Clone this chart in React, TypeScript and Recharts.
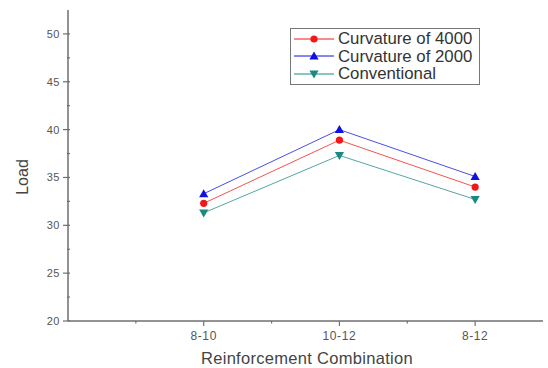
import { LineChart, Line, XAxis, YAxis } from "recharts";

const categories = ["8-10", "10-12", "8-12"];
const curvature4000 = [32.3, 38.9, 34.0];
const curvature2000 = [33.3, 40.0, 35.1];
const conventional = [31.3, 37.3, 32.7];
const yTicks = [20, 22.5, 25, 27.5, 30, 32.5, 35, 37.5, 40, 42.5, 45, 47.5, 50];
const xTicks = [0.5, 1, 1.5, 2, 2.5, 3];

const data = categories.map((c, i) => ({
  pos: i + 1,
  name: c,
  c4000: curvature4000[i],
  c2000: curvature2000[i],
  conv: conventional[i],
}));

const AXIS = "#6f6f6f";
const TEXT = "#555";
const FONT = "'Liberation Sans', Arial, sans-serif";

const RED = "#f01818";
const BLUE = "#1010e0";
const TEAL = "#1a8a80";

const series = [
  { key: "c4000", name: "Curvature of 4000", color: RED, shape: "circle" },
  { key: "c2000", name: "Curvature of 2000", color: BLUE, shape: "up" },
  { key: "conv", name: "Conventional", color: TEAL, shape: "down" },
];

const Marker = ({ cx, cy, shape, color }: any) => {
  if (cx == null || cy == null) return null;
  if (shape === "circle") return <circle cx={cx} cy={cy} r={3.6} fill={color} />;
  const s = 4.6;
  const pts =
    shape === "up"
      ? `${cx},${cy - s} ${cx - s},${cy + s * 0.75} ${cx + s},${cy + s * 0.75}`
      : `${cx},${cy + s} ${cx - s},${cy - s * 0.75} ${cx + s},${cy - s * 0.75}`;
  return <polygon points={pts} fill={color} />;
};

const XTick = ({ x, y, payload }: any) => {
  const major = Number.isInteger(payload.value);
  return (
    <g>
      <line x1={x} x2={x} y1={y} y2={y + (major ? 5 : 2.5)} stroke={AXIS} strokeWidth={1.2} />
      {major && (
        <text x={x} y={y + 19} textAnchor="middle" fill={TEXT} fontSize={12} letterSpacing={0.6} fontFamily={FONT}>
          {categories[payload.value - 1]}
        </text>
      )}
    </g>
  );
};

const YTick = ({ x, y, payload }: any) => {
  const major = payload.value % 5 === 0;
  return (
    <g>
      <line x1={major ? x - 5 : x - 1} x2={x + 2} y1={y} y2={y} stroke={AXIS} strokeWidth={1.2} />
      {major && (
        <text x={x - 8} y={y + 4} textAnchor="end" fill={TEXT} fontSize={11} letterSpacing={0.5} fontFamily={FONT}>
          {payload.value}
        </text>
      )}
    </g>
  );
};

const LegendBox = () => (
  <div
    style={{
      position: "absolute",
      left: 290,
      top: 28,
      border: "1px solid #777",
      padding: "1px 4px 1px 2px",
      background: "#fff",
      fontFamily: FONT,
      fontSize: 16.8,
      color: "#333",
      lineHeight: "17.5px",
      width: 182,
    }}
  >
    {series.map((s) => (
      <div key={s.key} style={{ display: "flex", alignItems: "center", whiteSpace: "nowrap" }}>
        <svg width={42} height={14} style={{ marginRight: 3 }}>
          <line x1={1} x2={41} y1={7} y2={7} stroke={s.color} strokeWidth={1} />
          <Marker cx={21} cy={7} shape={s.shape} color={s.color} />
        </svg>
        {s.name}
      </div>
    ))}
  </div>
);

export default function App() {
  return (
    <div style={{ position: "absolute", left: 0, top: 0, width: 548, height: 368, background: "#fff" }}>
      <LineChart width={548} height={368} data={data} margin={{ top: 10, right: 5, bottom: 0, left: 8 }}>
        <XAxis
          dataKey="pos"
          type="number"
          domain={[0, 3.5]}
          ticks={xTicks}
          interval={0}
          tick={<XTick />}
          tickSize={0}
          tickMargin={0}
          height={47}
          stroke={AXIS}
          strokeWidth={1.5}
          label={{
            content: ({ viewBox }: any) => (
              <text
                x={307}
                y={viewBox.y + 43}
                textAnchor="middle"
                fill="#444"
                fontSize={16.5}
                letterSpacing={0.3}
                fontFamily={FONT}
              >
                Reinforcement Combination
              </text>
            ),
          }}
        />
        <YAxis
          type="number"
          domain={[20, 52.5]}
          ticks={yTicks}
          interval={0}
          tick={<YTick />}
          tickSize={0}
          tickMargin={0}
          width={60}
          stroke={AXIS}
          strokeWidth={1.5}
          label={{
            content: () => (
              <text
                x={22}
                y={177}
                transform="rotate(-90 22 177)"
                textAnchor="middle"
                dominantBaseline="central"
                fill="#444"
                fontSize={16}
                fontFamily={FONT}
              >
                Load
              </text>
            ),
          }}
        />
        {series.map((s) => (
          <Line
            key={s.key}
            dataKey={s.key}
            name={s.name}
            stroke={s.color}
            strokeWidth={1}
            strokeOpacity={0.75}
            type="linear"
            dot={(p: any) => <Marker key={`${s.key}-${p.index}`} cx={p.cx} cy={p.cy} shape={s.shape} color={s.color} />}
            activeDot={false}
            isAnimationActive={false}
          />
        ))}
      </LineChart>
      <LegendBox />
    </div>
  );
}
